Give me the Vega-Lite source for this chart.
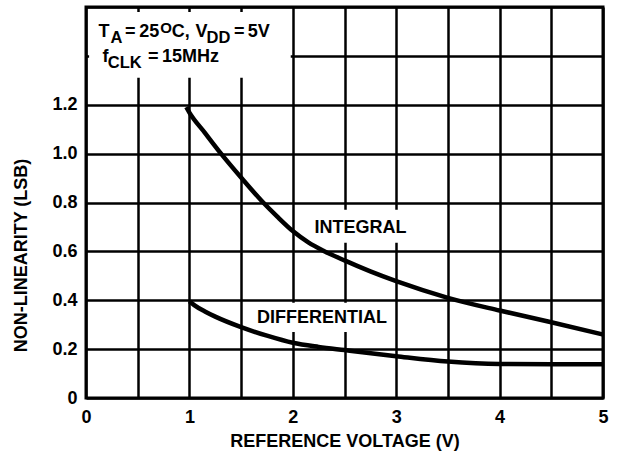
{
  "$schema": "https://vega.github.io/schema/vega-lite/v6.json",
  "width": 517,
  "height": 391,
  "autosize": {"type": "none"},
  "padding": {"left": 86, "top": 7, "right": 14, "bottom": 55},
  "background": "white",
  "config": {
    "font": "Liberation Sans",
    "view": {"stroke": "black", "strokeWidth": 3, "fill": "white"},
    "axis": {
      "grid": true,
      "gridColor": "black",
      "gridOpacity": 1,
      "gridWidth": 2.5,
      "domain": false,
      "ticks": false,
      "tickSize": 0,
      "labelFlush": false,
      "labelFont": "Liberation Sans",
      "labelFontSize": 18,
      "labelFontWeight": "bold",
      "labelColor": "black",
      "titleFont": "Liberation Sans",
      "titleFontSize": 18,
      "titleFontWeight": "bold",
      "titleColor": "black",
      "labelOverlap": false
    }
  },
  "datasets": {
    "curves": [
      {"series": "INTEGRAL", "v": 0.97, "nl": 1.19},
      {"series": "INTEGRAL", "v": 1.0, "nl": 1.168},
      {"series": "INTEGRAL", "v": 1.15, "nl": 1.085},
      {"series": "INTEGRAL", "v": 1.3, "nl": 1.003},
      {"series": "INTEGRAL", "v": 1.5, "nl": 0.902},
      {"series": "INTEGRAL", "v": 1.7, "nl": 0.806},
      {"series": "INTEGRAL", "v": 1.85, "nl": 0.742},
      {"series": "INTEGRAL", "v": 2.0, "nl": 0.683},
      {"series": "INTEGRAL", "v": 2.15, "nl": 0.637},
      {"series": "INTEGRAL", "v": 2.3, "nl": 0.602},
      {"series": "INTEGRAL", "v": 2.5, "nl": 0.563},
      {"series": "INTEGRAL", "v": 2.75, "nl": 0.518},
      {"series": "INTEGRAL", "v": 3.0, "nl": 0.478},
      {"series": "INTEGRAL", "v": 3.5, "nl": 0.41},
      {"series": "INTEGRAL", "v": 4.0, "nl": 0.358},
      {"series": "INTEGRAL", "v": 4.5, "nl": 0.31},
      {"series": "INTEGRAL", "v": 5.0, "nl": 0.26},
      {"series": "DIFFERENTIAL", "v": 1.0, "nl": 0.396},
      {"series": "DIFFERENTIAL", "v": 1.05, "nl": 0.379},
      {"series": "DIFFERENTIAL", "v": 1.15, "nl": 0.354},
      {"series": "DIFFERENTIAL", "v": 1.25, "nl": 0.333},
      {"series": "DIFFERENTIAL", "v": 1.5, "nl": 0.29},
      {"series": "DIFFERENTIAL", "v": 1.75, "nl": 0.255},
      {"series": "DIFFERENTIAL", "v": 2.0, "nl": 0.226},
      {"series": "DIFFERENTIAL", "v": 2.25, "nl": 0.209},
      {"series": "DIFFERENTIAL", "v": 2.5, "nl": 0.196},
      {"series": "DIFFERENTIAL", "v": 3.0, "nl": 0.171},
      {"series": "DIFFERENTIAL", "v": 3.5, "nl": 0.149},
      {"series": "DIFFERENTIAL", "v": 4.0, "nl": 0.139},
      {"series": "DIFFERENTIAL", "v": 4.5, "nl": 0.138},
      {"series": "DIFFERENTIAL", "v": 5.0, "nl": 0.138}
    ],
    "boxes": [
      {"x1": 0.03, "x2": 1.98, "y1": 1.31, "y2": 1.58},
      {"x1": 2.12, "x2": 3.15, "y1": 0.635, "y2": 0.77},
      {"x1": 1.58, "x2": 2.95, "y1": 0.27, "y2": 0.39}
    ],
    "labels": [
      {"t": "INTEGRAL", "x": 2.655, "y": 0.676},
      {"t": "DIFFERENTIAL", "x": 2.282, "y": 0.307}
    ],
    "cond": [
      {"t": "T", "x": 0.12, "y": 1.478, "k": "main"},
      {"t": "A", "x": 0.237, "y": 1.454, "k": "sub"},
      {"t": "=", "x": 0.377, "y": 1.478, "k": "main"},
      {"t": "25", "x": 0.515, "y": 1.478, "k": "main"},
      {"t": "O", "x": 0.718, "y": 1.495, "k": "sup"},
      {"t": "C,", "x": 0.83, "y": 1.478, "k": "main"},
      {"t": "V", "x": 1.06, "y": 1.478, "k": "main"},
      {"t": "DD", "x": 1.166, "y": 1.454, "k": "sub"},
      {"t": "=", "x": 1.432, "y": 1.478, "k": "main"},
      {"t": "5V", "x": 1.565, "y": 1.478, "k": "main"},
      {"t": "f", "x": 0.16, "y": 1.376, "k": "main"},
      {"t": "CLK", "x": 0.21, "y": 1.351, "k": "sub"},
      {"t": "=", "x": 0.6, "y": 1.376, "k": "main"},
      {"t": "15MHz", "x": 0.735, "y": 1.376, "k": "main"}
    ]
  },
  "layer": [
    {
      "data": {"name": "boxes"},
      "mark": {"type": "rect", "fill": "white", "stroke": null},
      "encoding": {
        "x": {"field": "x1", "type": "quantitative", "scale": {"domain": [0, 5], "nice": false},
          "axis": {"title": "REFERENCE VOLTAGE (V)", "values": [0, 0.5, 1, 1.5, 2, 2.5, 3, 3.5, 4, 4.5, 5],
            "labelExpr": "datum.value % 1 == 0 ? format(datum.value, 'd') : ''", "labelPadding": 10, "titlePadding": 6}},
        "x2": {"field": "x2"},
        "y": {"field": "y1", "type": "quantitative", "scale": {"domain": [0, 1.6], "nice": false},
          "axis": {"title": "NON-LINEARITY (LSB)", "values": [0, 0.2, 0.4, 0.6, 0.8, 1.0, 1.2, 1.4, 1.6],
            "labelExpr": "datum.value == 0 ? '0' : (datum.value > 1.3 ? '' : format(datum.value, '.1f'))",
            "labelPadding": 9, "titleX": -60, "titleY": 248, "titleBaseline": "alphabetic", "titleAlign": "center", "titleAngle": 270}},
        "y2": {"field": "y2"}
      }
    },
    {
      "data": {"name": "curves"},
      "mark": {"type": "line", "color": "black", "strokeWidth": 4.5, "interpolate": "monotone"},
      "encoding": {
        "x": {"field": "v", "type": "quantitative"},
        "y": {"field": "nl", "type": "quantitative"},
        "detail": {"field": "series"}
      }
    },
    {
      "data": {"name": "labels"},
      "mark": {"type": "text", "align": "center", "baseline": "alphabetic", "fontSize": 18, "fontWeight": "bold", "color": "black"},
      "encoding": {
        "x": {"field": "x", "type": "quantitative"},
        "y": {"field": "y", "type": "quantitative"},
        "text": {"field": "t"}
      }
    },
    {
      "data": {"name": "cond"},
      "mark": {"type": "text", "align": "left", "baseline": "alphabetic", "fontWeight": "bold", "color": "black"},
      "encoding": {
        "x": {"field": "x", "type": "quantitative"},
        "y": {"field": "y", "type": "quantitative"},
        "text": {"field": "t"},
        "size": {"field": "k", "type": "ordinal", "scale": {"domain": ["main", "sub", "sup"], "range": [18, 15, 13]}, "legend": null}
      }
    }
  ]
}
